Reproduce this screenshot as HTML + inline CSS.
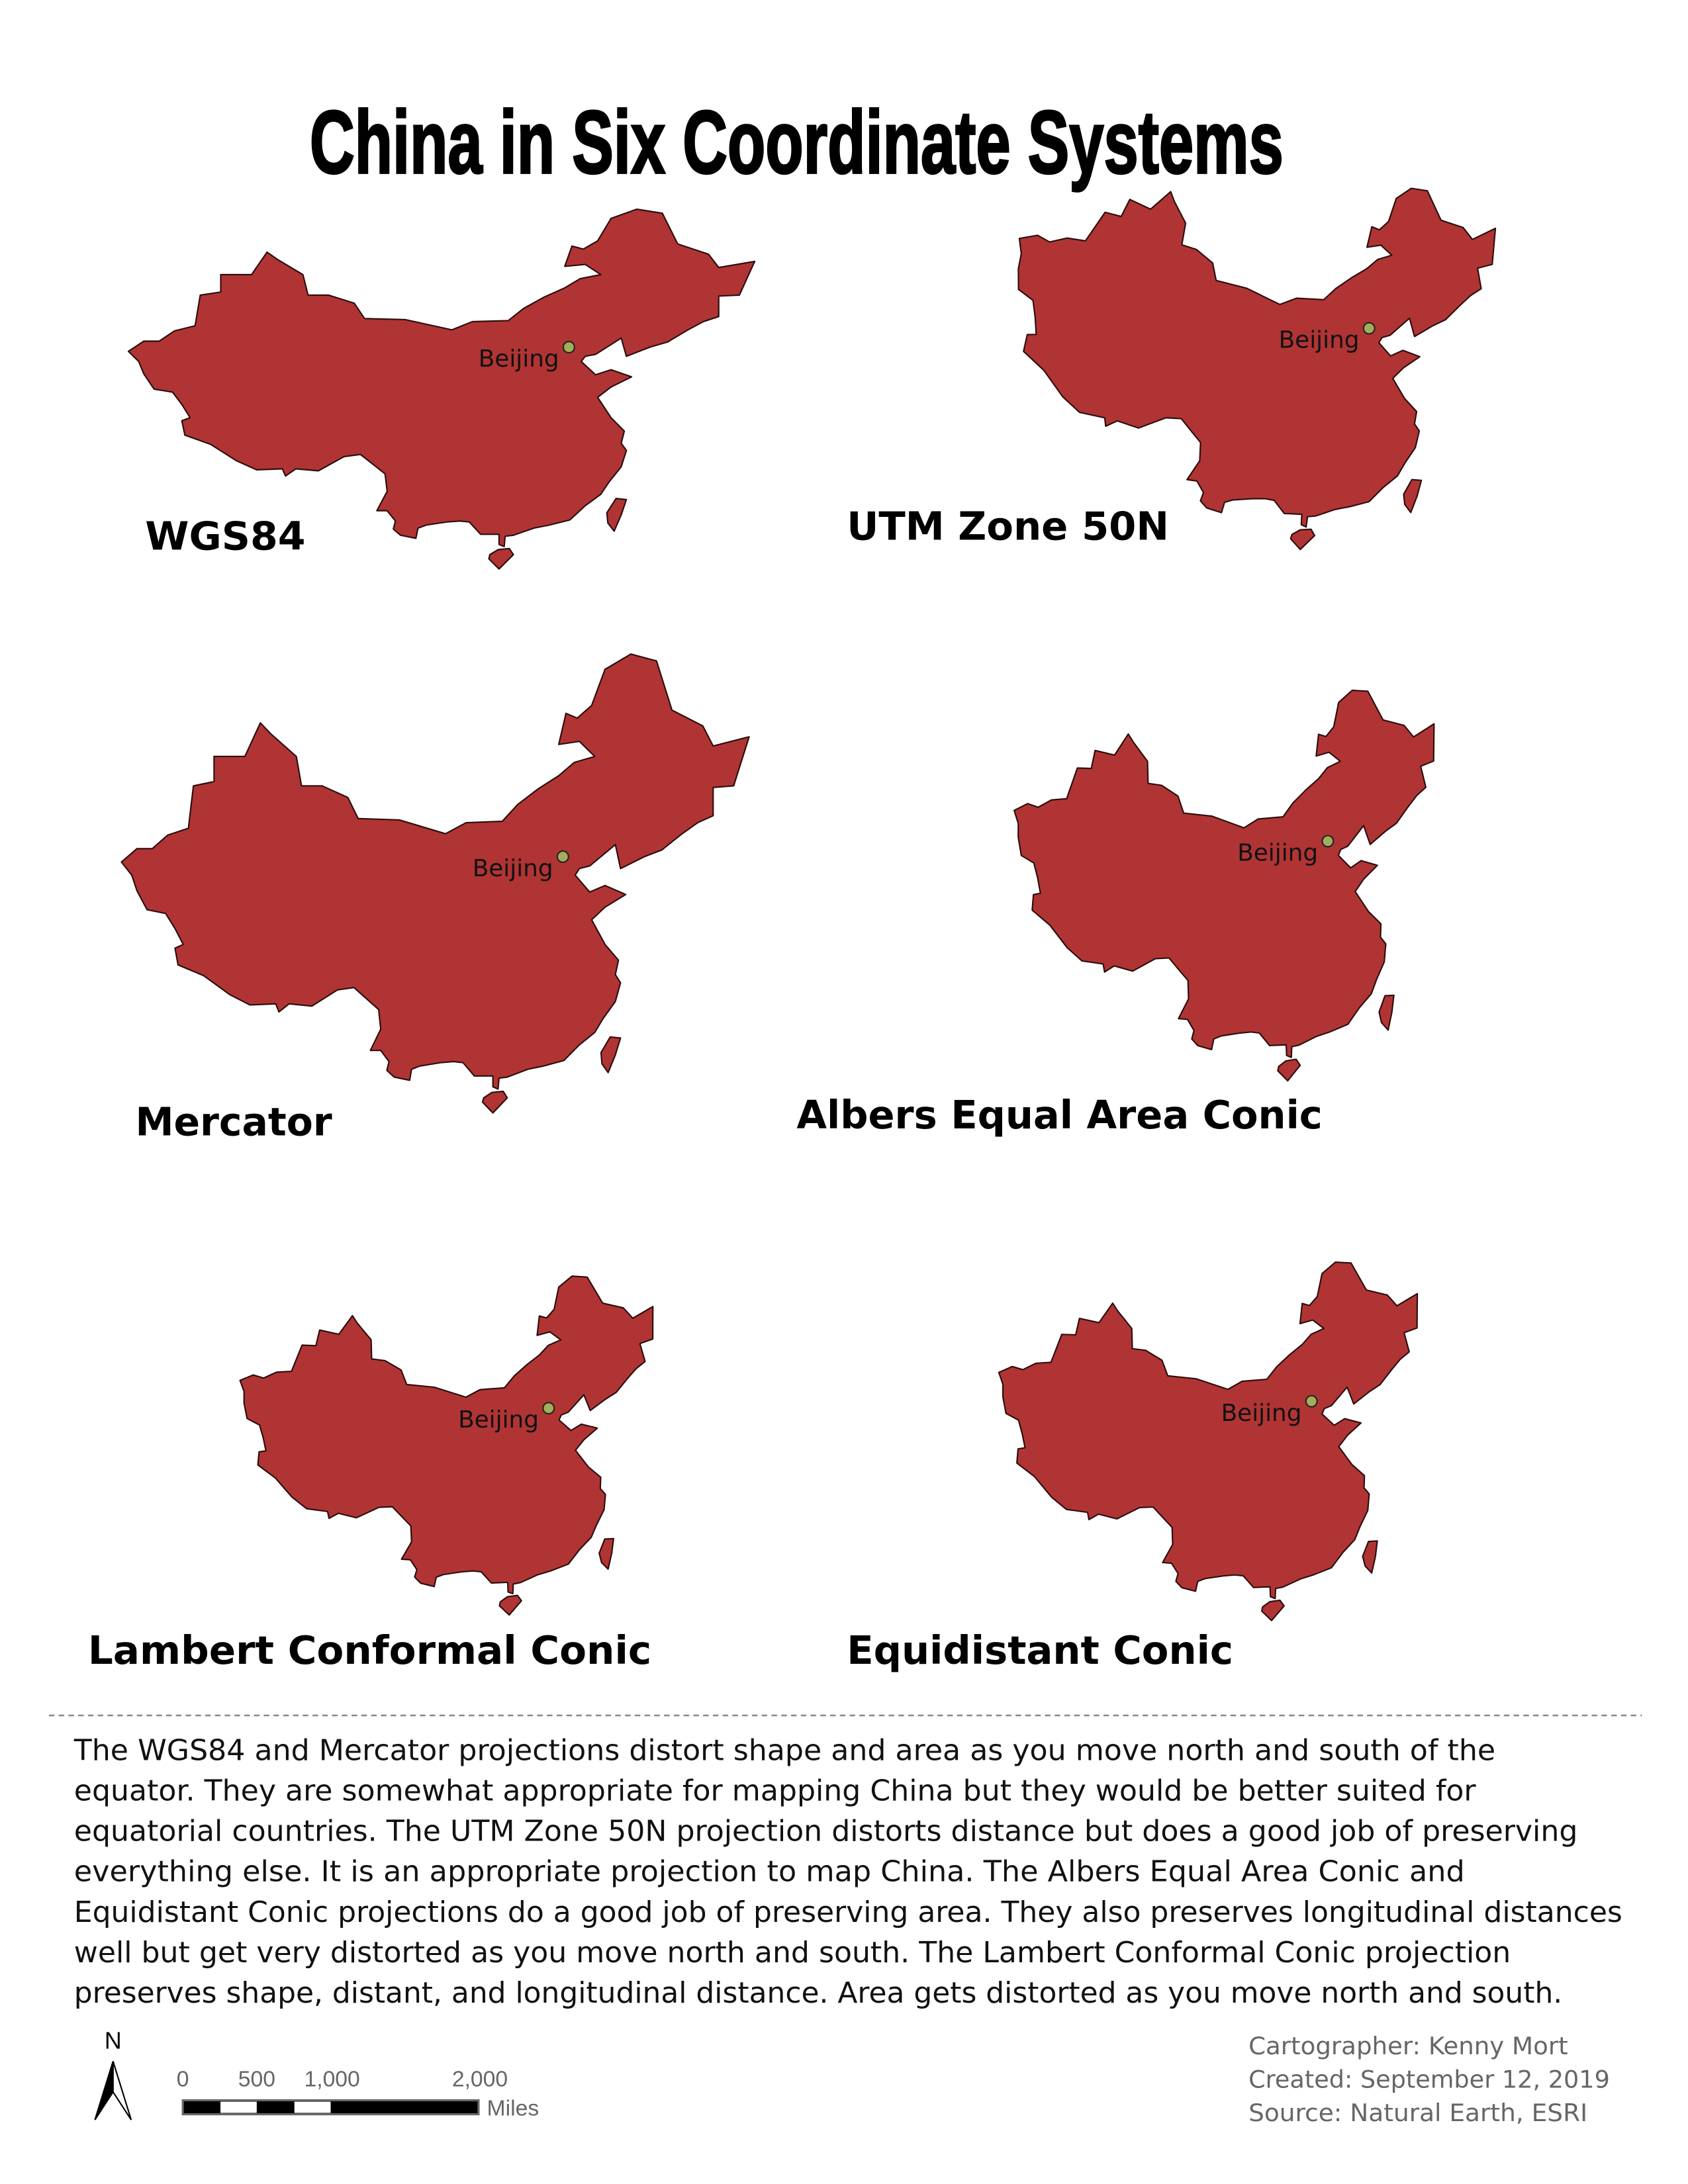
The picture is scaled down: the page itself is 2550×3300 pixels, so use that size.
<!DOCTYPE html>
<html><head><meta charset="utf-8">
<style>html,body{margin:0;padding:0;background:#fff;}svg{display:block;}</style>
</head><body>
<svg id="page" width="2550" height="3300" viewBox="0 0 1210 1566" xmlns="http://www.w3.org/2000/svg">
<rect width="1210" height="1566" fill="#fff"/>
<text x="571" y="124" text-anchor="middle" textLength="698" lengthAdjust="spacingAndGlyphs" font-family="'Liberation Sans Narrow','Liberation Sans',sans-serif" font-weight="bold" font-size="64" fill="#000" stroke="#000" stroke-width="1.5">China in Six Coordinate Systems</text>
<g id="maps"></g>
<g font-family="'DejaVu Sans',sans-serif" font-weight="bold" font-size="28" fill="#000">
<text x="104" y="394" textLength="115" lengthAdjust="spacingAndGlyphs">WGS84</text>
<text x="607" y="387" textLength="231" lengthAdjust="spacingAndGlyphs">UTM Zone 50N</text>
<text x="97" y="814" textLength="141" lengthAdjust="spacingAndGlyphs">Mercator</text>
<text x="571" y="809" textLength="377" lengthAdjust="spacingAndGlyphs">Albers Equal Area Conic</text>
<text x="63" y="1193" textLength="404" lengthAdjust="spacingAndGlyphs">Lambert Conformal Conic</text>
<text x="607" y="1193" textLength="277" lengthAdjust="spacingAndGlyphs">Equidistant Conic</text>
</g>
<line x1="35" y1="1230" x2="1177" y2="1230" stroke="#888" stroke-width="1.2" stroke-dasharray="4,3"/>
<g font-family="'DejaVu Sans',sans-serif" font-size="20.5" fill="#111">
<text x="53" y="1262" textLength="1019" lengthAdjust="spacingAndGlyphs">The WGS84 and Mercator projections distort shape and area as you move north and south of the</text>
<text x="53" y="1291" textLength="1005" lengthAdjust="spacingAndGlyphs">equator. They are somewhat appropriate for mapping China but they would be better suited for</text>
<text x="53" y="1320" textLength="1078" lengthAdjust="spacingAndGlyphs">equatorial countries. The UTM Zone 50N projection distorts distance but does a good job of preserving</text>
<text x="53" y="1349" textLength="997" lengthAdjust="spacingAndGlyphs">everything else. It is an appropriate projection to map China. The Albers Equal Area Conic  and</text>
<text x="53" y="1378" textLength="1110" lengthAdjust="spacingAndGlyphs">Equidistant Conic projections do a good job of preserving area. They also preserves longitudinal distances</text>
<text x="53" y="1407" textLength="1030" lengthAdjust="spacingAndGlyphs">well but get very distorted as you move north and south. The Lambert Conformal Conic projection</text>
<text x="53" y="1436" textLength="1067" lengthAdjust="spacingAndGlyphs">preserves shape, distant, and longitudinal distance. Area gets distorted as you move north and south.</text>
</g>
<g font-family="'DejaVu Sans',sans-serif" font-size="17.5" fill="#666">
<text x="895" y="1473" textLength="229" lengthAdjust="spacingAndGlyphs">Cartographer: Kenny Mort</text>
<text x="895" y="1497" textLength="259" lengthAdjust="spacingAndGlyphs">Created: September 12, 2019</text>
<text x="895" y="1521" textLength="243" lengthAdjust="spacingAndGlyphs">Source: Natural Earth, ESRI</text>
</g>
<g>
<text x="81" y="1469" text-anchor="middle" font-family="'Liberation Sans',sans-serif" font-size="17" fill="#000">N</text>
<polygon points="81,1478 68,1520 81,1500" fill="#000" stroke="#000" stroke-width="1"/>
<polygon points="81,1478 94,1520 81,1500" fill="#fff" stroke="#000" stroke-width="1"/>
</g>
<g font-family="'Liberation Sans',sans-serif" font-size="16" fill="#666">
<text x="131" y="1496" text-anchor="middle">0</text>
<text x="184" y="1496" text-anchor="middle">500</text>
<text x="238" y="1496" text-anchor="middle">1,000</text>
<text x="344" y="1496" text-anchor="middle">2,000</text>
<rect x="131" y="1506" width="212" height="10" fill="#000" stroke="#666" stroke-width="1.5"/>
<rect x="158" y="1507" width="26" height="8" fill="#fff"/>
<rect x="211" y="1507" width="26" height="8" fill="#fff"/>
<text x="349" y="1517">Miles</text>
</g>
</svg>
<script>
const mainland = [[73.5,39.5],[75,40.5],[76.5,40.5],[78,41.5],[80,42],[80.5,45],[82.5,45.3],[82.5,47],[85.5,47],[87,49.2],[88,48.5],[90.5,47],[91,45],[93,45],[95.5,44.2],[96.5,42.7],[100.5,42.6],[105,41.6],[107,42.4],[110.5,42.5],[112,43.7],[114,44.8],[116,45.7],[117.5,46.6],[119.5,47],[118,48],[116,47.8],[116.7,49.8],[117.8,49.5],[119.2,50.3],[120.5,52.5],[123,53.4],[125.5,53],[127,50],[130,49],[131,47.7],[134.5,48.3],[133,45],[131,44.9],[131,42.9],[129.5,42.4],[128,41.6],[126,40.4],[124.3,39.9],[122,39],[121.5,40.8],[119,39.2],[118,39],[117.6,38.5],[119,37.2],[120.5,37.7],[122.5,37],[120.5,36],[119.2,35],[120.5,33],[121.8,31.7],[121.5,30.5],[122,29.8],[121.5,28.2],[120.3,26.7],[119.5,25.5],[118,24.4],[116.5,23],[114.5,22.5],[113,22.2],[111,21.5],[110.2,21.4],[110.1,20.4],[109.6,20.6],[109.6,21.6],[108.5,21.6],[107.8,21.6],[106.7,22.8],[105.8,22.9],[104.5,22.8],[102.5,22.5],[101.7,22.2],[101.5,21.2],[100,21.5],[99.3,22.1],[99.5,22.9],[98.7,23.9],[97.7,23.9],[98.7,25.8],[98.5,27.5],[97.5,28.3],[96.1,29.4],[94.5,29.2],[92,27.8],[89.8,28],[88.8,27.3],[88.5,28],[86,27.9],[84,28.8],[81.5,30.4],[79,31.3],[78.7,32.7],[79.5,33],[78.7,34.3],[77.8,35.5],[76,35.8],[75,37.3],[74.5,38.5]];
const hainan = [[108.6,19.2],[109.6,18.2],[111,19.6],[110.6,20.2],[109.5,20.1],[108.7,19.6]];
const taiwan = [[121,25.1],[122,25],[121.5,23.5],[120.8,21.9],[120.2,22.7],[120.1,23.7]];
const beijing = [116.4,39.9];
const R = Math.PI/180;
const p1=25*R, p2=47*R, L0=105;
const nA=(Math.sin(p1)+Math.sin(p2))/2, CA=Math.cos(p1)**2+2*nA*Math.sin(p1);
const t=f=>Math.tan(Math.PI/4+f/2);
const nL=Math.log(Math.cos(p1)/Math.cos(p2))/Math.log(t(p2)/t(p1)), FL=Math.cos(p1)*Math.pow(t(p1),nL)/nL;
const nE=(Math.cos(p1)-Math.cos(p2))/(p2-p1), GE=Math.cos(p1)/nE+p1;
const proj = {
 wgs:(lo,la)=>[lo,-la],
 merc:(lo,la)=>[lo*R,-Math.log(t(la*R))],
 utm:(lo,la)=>{const d=(lo-117)*R,f=la*R;return [Math.atanh(Math.cos(f)*Math.sin(d)),-Math.atan2(Math.tan(f),Math.cos(d))];},
 albers:(lo,la)=>{const r=Math.sqrt(CA-2*nA*Math.sin(la*R))/nA,th=nA*(lo-L0)*R;return [r*Math.sin(th),r*Math.cos(th)];},
 lambert:(lo,la)=>{const r=FL/Math.pow(t(la*R),nL),th=nL*(lo-L0)*R;return [r*Math.sin(th),r*Math.cos(th)];},
 equi:(lo,la)=>{const r=GE-la*R,th=nE*(lo-L0)*R;return [r*Math.sin(th),r*Math.cos(th)];}
};
const maps=[
 {name:'wgs84',p:'wgs',box:[92,150,541,408]},
 {name:'utm-zone-50n',p:'utm',box:[730,135,1072,394]},
 {name:'mercator',p:'merc',box:[87,469,537,798]},
 {name:'albers-equal-area-conic',p:'albers',box:[727,495,1028,775]},
 {name:'lambert-conformal-conic',p:'lambert',box:[172,915,468,1158]},
 {name:'equidistant-conic',p:'equi',box:[716,905,1016,1162]}
];
const NS='http://www.w3.org/2000/svg';
const g=document.getElementById('maps');
maps.forEach(m=>{
 const f=proj[m.p];
 const rings=[mainland,hainan,taiwan].map(r=>r.map(c=>f(c[0],c[1])));
 let xs=[],ys=[];rings.forEach(r=>r.forEach(c=>{xs.push(c[0]);ys.push(c[1]);}));
 const x0=Math.min(...xs),x1=Math.max(...xs),y0=Math.min(...ys),y1=Math.max(...ys);
 const sx=(m.box[2]-m.box[0])/(x1-x0), sy=(m.box[3]-m.box[1])/(y1-y0);
 const T=c=>[m.box[0]+(c[0]-x0)*sx, m.box[1]+(c[1]-y0)*sy];
 const grp=document.createElementNS(NS,'g');
 
 
 const path=document.createElementNS(NS,'path');
 
 
 path.setAttribute('d',rings.map(r=>'M'+r.map(c=>T(c).map(v=>v.toFixed(1)).join(',')).join('L')+'Z').join(''));
 path.setAttribute('fill','#b03434');
 path.setAttribute('stroke','#2a0c0c');
 path.setAttribute('stroke-width','1');
 path.setAttribute('stroke-linejoin','round');
 grp.appendChild(path);
 const b=T(f(beijing[0],beijing[1]));
 const dot=document.createElementNS(NS,'circle');
 
 
 dot.setAttribute('cx',b[0]);dot.setAttribute('cy',b[1]);dot.setAttribute('r','4');
 dot.setAttribute('fill','#a3ae5a');dot.setAttribute('stroke','#222');dot.setAttribute('stroke-width','1');
 grp.appendChild(dot);
 const tx=document.createElementNS(NS,'text');
 
 
 tx.setAttribute('x',b[0]-7);tx.setAttribute('y',b[1]+14);
 tx.setAttribute('text-anchor','end');
 tx.setAttribute('font-family',"'DejaVu Sans',sans-serif");
 tx.setAttribute('font-size','17');tx.setAttribute('fill','#111');
 tx.textContent='Beijing';
 grp.appendChild(tx);
 g.appendChild(grp);
});
</script>
</body></html>
